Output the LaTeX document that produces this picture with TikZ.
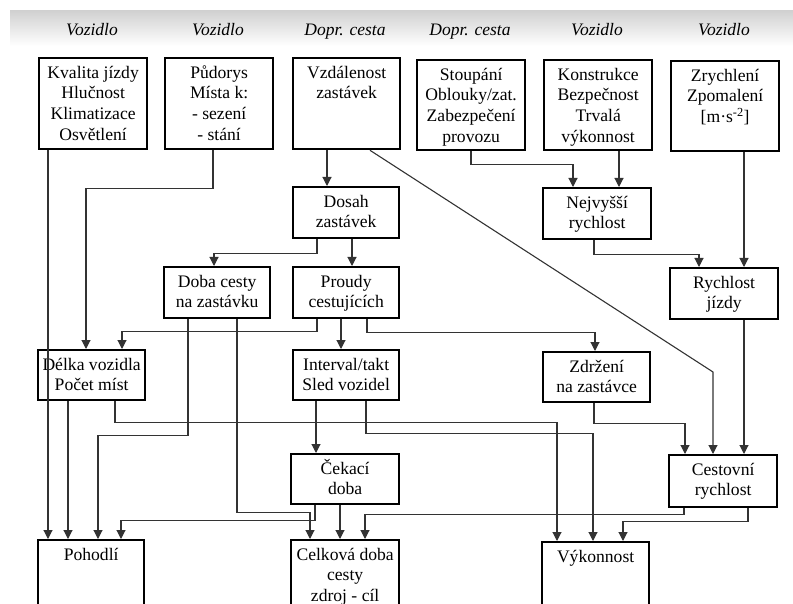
\documentclass[tikz,border=0pt]{standalone}
\usepackage{fontspec}
\setmainfont{Liberation Serif}
\usetikzlibrary{arrows.meta}
\newcommand\boxfont{\fontsize{17.6pt}{20.7pt}\selectfont}
\newcommand\bx[6]{\node[box] (#1) at (#2,#3) {\parbox[c][#5pt][t]{#4pt}{\centering\boxfont\rule{0pt}{20pt}#6\par}};}
\begin{document}
\begin{tikzpicture}[x=1pt,y=-1pt,
  box/.style={draw=black, line width=2.3pt, inner sep=0pt, anchor=north west, fill=white},
  conn/.style={draw=black!80, line width=1.1pt, -{Triangle[width=9pt,length=9pt]}},
  plain/.style={draw=black!80, line width=1.1pt},
  hdr/.style={font=\fontsize{17.5pt}{20pt}\selectfont\itshape, anchor=base, inner sep=0pt}]
\useasboundingbox (0,0) rectangle (793,604);
\clip (0,0) rectangle (793,604);
% header band
\shade[top color=black!18, bottom color=white] (10,11) rectangle (793,46);
\node[hdr] (h1) at (92,36) {Vozidlo};
\node[hdr] (h2) at (218,36) {Vozidlo};
\node[hdr] (h3) at (345,36) {Dopr. cesta};
\node[hdr] (h4) at (470,36) {Dopr. cesta};
\node[hdr] (h5) at (597,36) {Vozidlo};
\node[hdr] (h6) at (724,36) {Vozidlo};
% lanes
\foreach \v in {48,68,86,98,115,121,122,188,213,214,237,310,315,316,317,327,340,341,352,365,366,367,370,471,557,573,593,594,595,619,623,684,685,699,744,748}
  {\coordinate (x\v) at (\v,0);}
\coordinate (cdiag) at (713,372);
% boxes
\bx{A}{38}{57}{108}{91}{Kvalita jízdy\\Hlučnost\\Klimatizace\\Osvětlení}
\bx{B}{164}{57}{108}{91}{Půdorys\\Místa k:\\- sezení\\- stání}
\bx{C}{292}{57}{107}{91}{Vzdálenost\\zastávek}
\bx{D}{416}{59}{108}{90}{Stoupání\\Oblouky/zat.\\Zabezpečení\\provozu}
\bx{E}{543}{59}{108}{90}{Konstrukce\\Bezpečnost\\Trvalá\\výkonnost}
\bx{F}{670}{60}{108}{90}{Zrychlení\\Zpomalení\\{[}m·s\textsuperscript{-2}{]}}
\bx{Dos}{292}{186}{106}{51}{Dosah\\zastávek}
\bx{Nej}{542}{187}{108}{51}{Nejvyšší\\rychlost}
\bx{Dob}{163}{266}{106}{51}{Doba cesty\\na zastávku}
\bx{Pro}{292}{266}{106}{51}{Proudy\\cestujících}
\bx{Ryj}{669}{267}{108}{51}{Rychlost\\jízdy}
\bx{Del}{37}{349}{107}{50}{Délka vozidla\\Počet míst}
\bx{Int}{292}{349}{106}{50}{Interval/takt\\Sled vozidel}
\bx{Zdr}{542}{351}{107}{50}{Zdržení\\na zastávce}
\bx{Cek}{290}{453}{108}{50}{Čekací\\doba}
\bx{Ces}{668}{454}{108}{52}{Cestovní\\rychlost}
\bx{Poh}{37}{539}{106}{80}{Pohodlí}
\bx{Cel}{290}{539}{108}{80}{Celková doba\\cesty\\zdroj - cíl}
\bx{Vyk}{541}{541}{107}{80}{Výkonnost}
% connectors
\draw[conn] (A.south -| x48) -- (Poh.north -| x48);
\draw[conn] (B.south -| x213) -- ++(0,38) -| (Del.north -| x86);
\draw[conn] (C.south -| x327) -- (Dos.north -| x327);
\draw[conn] (C.south -| x370) -- (cdiag) -- (Ces.north -| cdiag);
\draw[conn] (D.south -| x471) -- ++(0,13) -| (Nej.north -| x573);
\draw[conn] (E.south -| x619) -- (Nej.north -| x619);
\draw[conn] (F.south -| x744) -- (Ryj.north -| x744);
\draw[conn] (Nej.south -| x594) -- ++(0,14) -| (Ryj.north -| x699);
\draw[conn] (Ryj.south -| x744) -- (Ces.north -| x744);
\draw[conn] (Dos.south -| x317) -- ++(0,14) -| (Dob.north -| x214);
\draw[conn] (Dos.south -| x352) -- (Pro.north -| x352);
\draw[conn] (Pro.south -| x317) -- ++(0,12) -| (Del.north -| x122);
\draw[conn] (Pro.south -| x341) -- (Int.north -| x341);
\draw[conn] (Pro.south -| x367) -- ++(0,13) -| (Zdr.north -| x595);
\draw[conn] (Dob.south -| x188) -- ++(0,116) -| (Poh.north -| x98);
\draw[conn] (Dob.south -| x237) -- ++(0,193) -| (Cel.north -| x310);
\draw[conn] (Del.south -| x68) -- (Poh.north -| x68);
\draw[conn] (Del.south -| x115) -- ++(0,21) -| (Vyk.north -| x557);
\draw[conn] (Int.south -| x316) -- (Cek.north -| x316);
\draw[conn] (Int.south -| x366) -- ++(0,32) -| (Vyk.north -| x593);
\draw[conn] (Zdr.south -| x594) -- ++(0,20) -| (Ces.north -| x685);
\draw[conn] (Cek.south -| x315) -- ++(0,15) -| (Poh.north -| x121);
\draw[conn] (Cek.south -| x340) -- (Cel.north -| x340);
\draw[conn] (Ces.south -| x684) -- ++(0,6) -| (Cel.north -| x365);
\draw[conn] (Ces.south -| x748) -- ++(0,13) -| (Vyk.north -| x623);
\end{tikzpicture}
\end{document}
